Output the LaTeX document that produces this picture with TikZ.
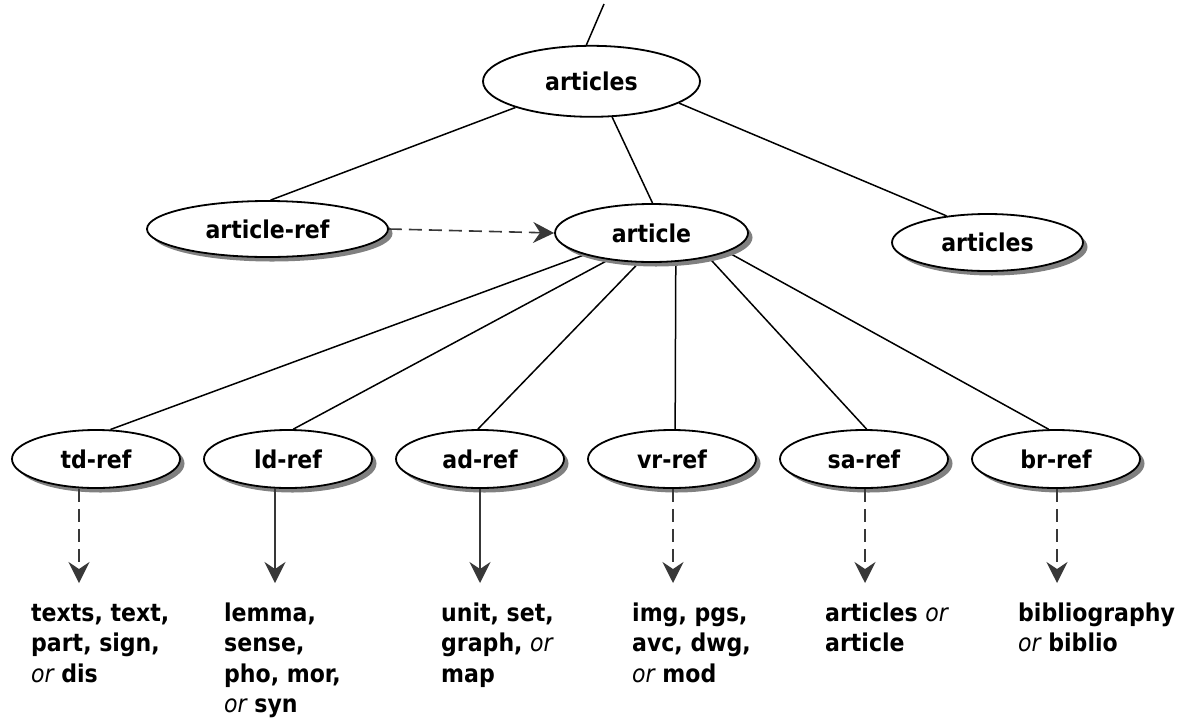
\documentclass[tikz,border=0pt]{standalone}
\usepackage{fontspec}
\IfFontExistsTF{DejaVu Sans Condensed}
  {\setmainfont{DejaVu Sans Condensed}}
  {\setmainfont{DejaVu Sans}[Scale=0.9]}
\usetikzlibrary{shapes.geometric,arrows.meta,shadows,backgrounds}
\newcommand{\ortext}{{\mdseries\itshape or}}
\begin{document}
\begin{tikzpicture}[x=1pt,y=-1pt,
  every node/.style={font=\fontsize{24.5}{30.5}\selectfont\bfseries},
  bub/.style={ellipse, draw=black, line width=1.8pt, fill=white, inner sep=0pt},
  shad/.style={drop shadow={shadow xshift=4.5pt, shadow yshift=-4.5pt, fill=black!50, opacity=1}},
  refbub/.style={bub, shad, minimum width=168pt, minimum height=58pt},
  edge/.style={line width=1.5pt, draw=black},
  ref/.style={line width=1.6pt, draw=black!78,
    -{Stealth[length=21pt, width=21pt, inset=7pt, fill=black!78]}},
  refd/.style={ref, dash pattern=on 13pt off 7pt},
  lab/.style={anchor=north west, inner sep=0pt, align=left}
]
\useasboundingbox (0,0) rectangle (1178,721);

% upper levels
\node[bub, minimum width=217pt, minimum height=71pt] (top) at (591.5,81.3) {articles};
\node[bub, shad, minimum width=241pt, minimum height=56pt] (aref) at (267.5,229) {article-ref};
\node[bub, shad, minimum width=193pt, minimum height=58pt] (art) at (651.5,233) {article};
\node[bub, shad, minimum width=191pt, minimum height=57pt] (arts) at (987.5,242.5) {articles};

% reference elements
\node[refbub] (td) at (96,459) {td-ref};
\node[refbub] (ld) at (288,459) {ld-ref};
\node[refbub] (ad) at (480,459) {ad-ref};
\node[refbub] (vr) at (672,459) {vr-ref};
\node[refbub] (sa) at (864,459) {sa-ref};
\node[refbub] (br) at (1056,459) {br-ref};

% tree edges, behind the bubbles and their shadows
\coordinate (stem) at (604,4);
\begin{pgfonlayer}{background}
\draw[edge] (stem) -- (top.98.6);
\draw[edge] (top.199.6) -- (aref.84);
\draw[edge] (top.-60) -- (art.88);
\draw[edge] (top.-14) -- (arts.147);
\draw[edge] (art.198.5) -- (td.64);
\draw[edge] (art.212) -- (ld.80);
\draw[edge] (art.247.3) -- (ad.94);
\draw[edge] (art.310.5) -- (vr.84);
\draw[edge] (art.337.2) -- (sa.85);
\draw[edge] (art.346.9) -- (br.104);
\end{pgfonlayer}

% pointer from article-ref to article
\draw[refd] (aref.east) -- (art.west);

% targets of the references
\coordinate (tdtip) at (79,583);
\coordinate (ldtip) at (275,583);
\coordinate (adtip) at (480,583);
\coordinate (vrtip) at (673,583);
\coordinate (satip) at (865,583);
\coordinate (brtip) at (1057,583);
\draw[refd] (td.south -| tdtip) -- (tdtip);
\draw[ref]  (ld.south -| ldtip) -- (ldtip);
\draw[ref]  (ad.south -| adtip) -- (adtip);
\draw[refd] (vr.south -| vrtip) -- (vrtip);
\draw[refd] (sa.south -| satip) -- (satip);
\draw[refd] (br.south -| brtip) -- (brtip);

\node[lab] (tdt) at (31,599.6) {\strut texts, text,\\part, sign,\\\ortext{} dis};
\node[lab] (ldt) at (224,599.6) {\strut lemma,\\sense,\\pho, mor,\\\ortext{} syn};
\node[lab] (adt) at (441,599.6) {\strut unit, set,\\graph, \ortext\\map};
\node[lab] (vrt) at (632,599.6) {\strut img, pgs,\\avc, dwg,\\\ortext{} mod};
\node[lab] (sat) at (825,599.6) {\strut articles \ortext\\article};
\node[lab] (brt) at (1018,599.6) {\strut bibliography\\\ortext{} biblio};
\end{tikzpicture}
\end{document}
